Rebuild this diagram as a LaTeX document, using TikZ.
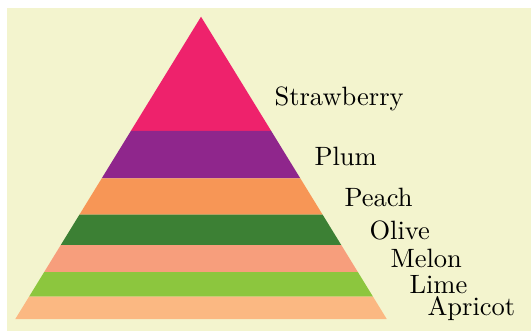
\documentclass[tikz,border=0pt]{standalone}
\usetikzlibrary{calc}
\definecolor{bgcolor}{RGB}{243,244,206}
\definecolor{cStraw}{RGB}{238,34,108}
\definecolor{cPlum}{RGB}{143,38,140}
\definecolor{cPeach}{RGB}{247,150,86}
\definecolor{cOlive}{RGB}{60,128,52}
\definecolor{cMelon}{RGB}{247,158,124}
\definecolor{cLime}{RGB}{140,198,62}
\definecolor{cApricot}{RGB}{251,184,130}
\tikzset{bandlabel/.style={anchor=base west, inner sep=0pt}}

\begin{document}
\begin{tikzpicture}
    \useasboundingbox (0,0) rectangle (7.042,4.390);
    % Background panel
    \fill[bgcolor] (0.093,0) rectangle (7.042,4.284);
    % Pyramid bands of equal area (apex at (2.666,4.168))
    \foreach \k/\col in {1/cStraw,2/cPlum,3/cPeach,4/cOlive,5/cMelon,6/cLime,7/cApricot}{
      \pgfmathsetmacro{\ta}{sqrt((\k-1)/7)}
      \pgfmathsetmacro{\tb}{sqrt(\k/7)}
      \fill[\col] (2.666-2.463*\ta,4.168-4.009*\ta) -- (2.666+2.463*\ta,4.168-4.009*\ta)
        -- (2.666+2.463*\tb,4.168-4.009*\tb) -- (2.666-2.463*\tb,4.168-4.009*\tb) -- cycle;
    }
    % Labels
    \node[bandlabel] (straw) at (3.634,2.997) {Strawberry};
    \node[bandlabel] (plum) at (4.164,2.195) {Plum};
    \node[bandlabel] (peach) at (4.562,1.651) {Peach};
    \node[bandlabel] (olive) at (4.894,1.214) {Olive};
    \node[bandlabel] (melon) at (5.172,0.849) {Melon};
    \node[bandlabel] (lime) at (5.424,0.491) {Lime};
    \node[bandlabel] (apricot) at (5.663,0.212) {Apricot};
\end{tikzpicture}
\end{document}
